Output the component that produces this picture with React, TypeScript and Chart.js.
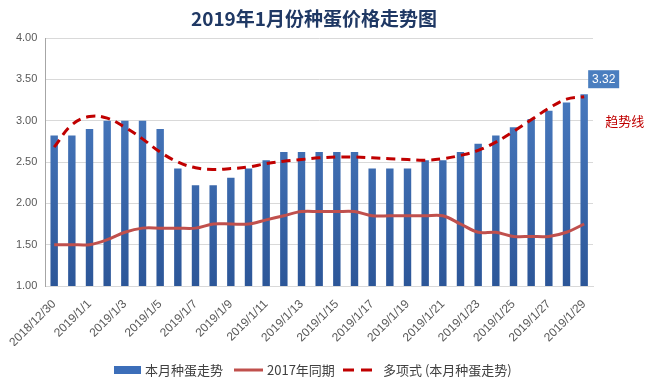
import React, { useEffect, useRef } from 'react';
import { Chart, registerables } from 'chart.js';

Chart.register(...registerables);

const categories = [
  '2018/12/30', '2018/12/31', '2019/1/1', '2019/1/2', '2019/1/3', '2019/1/4', '2019/1/5',
  '2019/1/6', '2019/1/7', '2019/1/8', '2019/1/9', '2019/1/10', '2019/1/11', '2019/1/12',
  '2019/1/13', '2019/1/14', '2019/1/15', '2019/1/16', '2019/1/17', '2019/1/18', '2019/1/19',
  '2019/1/20', '2019/1/21', '2019/1/22', '2019/1/23', '2019/1/24', '2019/1/25', '2019/1/26',
  '2019/1/27', '2019/1/28', '2019/1/29',
];

const priceThisMonth = [
  2.82, 2.82, 2.9, 3.0, 3.0, 3.0, 2.9, 2.42, 2.22, 2.22, 2.31, 2.42, 2.52, 2.62, 2.62, 2.62,
  2.62, 2.62, 2.42, 2.42, 2.42, 2.52, 2.52, 2.62, 2.72, 2.82, 2.92, 3.02, 3.12, 3.22, 3.32,
];

const price2017 = [
  1.5, 1.5, 1.5, 1.56, 1.65, 1.7, 1.7, 1.7, 1.7, 1.75, 1.75, 1.75, 1.8, 1.85, 1.9, 1.9,
  1.9, 1.9, 1.85, 1.85, 1.85, 1.85, 1.85, 1.75, 1.65, 1.65, 1.6, 1.6, 1.6, 1.65, 1.75,
];

const trendPoly = [
  2.68, 2.95, 3.05, 3.03, 2.92, 2.78, 2.62, 2.5, 2.43, 2.41, 2.42, 2.44, 2.48, 2.51, 2.53, 2.55,
  2.56, 2.56, 2.55, 2.54, 2.53, 2.52, 2.54, 2.58, 2.64, 2.74, 2.87, 3.01, 3.15, 3.26, 3.29,
];

const yTicks = { min: 1, max: 4, step: 0.5 };

const seriesNames = ['本月种蛋走势', '2017年同期', '多项式 (本月种蛋走势)'];
const titleText = '2019年1月份种蛋价格走势图';
const trendNote = '趋势线';

const BAR_TOP = 'rgb(80,131,201)';
const BAR_BOTTOM = 'rgb(44,86,152)';
const LINE_2017 = '#C0504D';
const LINE_TREND = '#C00000';
const CJK = '"Noto Sans CJK SC", "Liberation Sans", sans-serif';

const overlayPlugin = {
  id: 'overlay',
  afterDraw(chart: any) {
    const { ctx } = chart;
    const xs = chart.scales.x;
    const ys = chart.scales.y;
    ctx.save();
    // Title
    ctx.font = `bold 19px ${CJK}`;
    ctx.fillStyle = '#1F3864';
    ctx.textAlign = 'center';
    ctx.textBaseline = 'middle';
    ctx.fillText(titleText, 314, 19);

    // Last value label
    const last = priceThisMonth.length - 1;
    const lx = xs.getPixelForValue(last);
    const ly = ys.getPixelForValue(priceThisMonth[last]);
    ctx.fillStyle = '#4A7EBF';
    ctx.fillRect(lx + 4, ly - 24, 31, 18);
    ctx.fillStyle = '#FFFFFF';
    ctx.font = `12px "Liberation Sans", Arial, sans-serif`;
    ctx.textAlign = 'center';
    ctx.fillText(priceThisMonth[last].toFixed(2), lx + 19.5, ly - 15);

    // Trend note
    const ty = ys.getPixelForValue(trendPoly[last]);
    ctx.fillStyle = '#C00000';
    ctx.font = `13px ${CJK}`;
    ctx.textAlign = 'left';
    ctx.fillText(trendNote, lx + 21, ty + 24);

    // Legend
    const ly0 = 370;
    ctx.fillStyle = 'rgb(60,110,185)';
    ctx.fillRect(114, ly0 - 4, 27, 8);
    ctx.fillStyle = '#404040';
    ctx.font = `13px ${CJK}`;
    ctx.textAlign = 'left';
    ctx.fillText(seriesNames[0], 145, ly0);

    ctx.strokeStyle = LINE_2017;
    ctx.lineWidth = 3;
    ctx.beginPath();
    ctx.moveTo(234, ly0);
    ctx.lineTo(263, ly0);
    ctx.stroke();
    ctx.fillText(seriesNames[1], 267, ly0);

    ctx.strokeStyle = LINE_TREND;
    ctx.setLineDash([11, 7]);
    ctx.beginPath();
    ctx.moveTo(343, ly0);
    ctx.lineTo(372, ly0);
    ctx.stroke();
    ctx.setLineDash([]);
    ctx.fillText(seriesNames[2], 383, ly0);
    ctx.restore();
  },
};

export default function App() {
  const ref = useRef<HTMLCanvasElement | null>(null);

  useEffect(() => {
    if (!ref.current) return;
    const chart = new Chart(ref.current, {
      type: 'bar',
      data: {
        labels: categories,
        datasets: [
          {
            type: 'bar',
            label: seriesNames[0],
            data: priceThisMonth,
            order: 3,
            backgroundColor: (c: any) => {
              const area = c.chart.chartArea;
              if (!area) return BAR_TOP;
              const g = c.chart.ctx.createLinearGradient(0, area.top, 0, area.bottom);
              g.addColorStop(0, BAR_TOP);
              g.addColorStop(1, BAR_BOTTOM);
              return g;
            },
            barPercentage: 0.42,
            categoryPercentage: 1,
          },
          {
            type: 'line',
            label: seriesNames[1],
            data: price2017,
            order: 2,
            borderColor: LINE_2017,
            borderWidth: 3,
            pointRadius: 0,
            tension: 0.35,
            fill: false,
          },
          {
            type: 'line',
            label: seriesNames[2],
            data: trendPoly,
            order: 1,
            borderColor: LINE_TREND,
            borderWidth: 3,
            borderDash: [9, 6],
            pointRadius: 0,
            tension: 0.4,
            fill: false,
          },
        ],
      } as any,
      options: {
        animation: false,
        responsive: false,
        layout: { padding: { top: 38, right: 54, bottom: 38, left: 0 } },
        plugins: {
          legend: { display: false },
          title: { display: false },
          tooltip: { enabled: false },
        },
        scales: {
          x: {
            offset: true,
            grid: { display: false, drawTicks: false },
            border: { display: true, color: '#D9D9D9' },
            ticks: {
              autoSkip: false,
              minRotation: 45,
              maxRotation: 45,
              padding: 11,
              color: '#595959',
              font: { size: 12, family: '"Liberation Sans", Arial, sans-serif' },
              callback: (_v: any, i: number) => (i % 2 === 0 ? categories[i] : ''),
            },
            afterFit: (s: any) => { s.height = 60; },
          },
          y: {
            min: yTicks.min,
            max: yTicks.max,
            ticks: {
              stepSize: yTicks.step,
              padding: 8,
              color: '#595959',
              font: { size: 11, family: '"Liberation Sans", Arial, sans-serif' },
              callback: (v: any) => Number(v).toFixed(2),
            },
            grid: { color: '#D9D9D9', drawTicks: false },
            border: { display: true, color: '#A6A6A6' },
            afterFit: (s: any) => { s.width = 44; },
          },
        },
      } as any,
      plugins: [overlayPlugin],
    });
    return () => chart.destroy();
  }, []);

  return (
    <div style={{ position: 'fixed', left: 0, top: 0, width: 647, height: 384, background: '#fff' }}>
      <canvas ref={ref} width={647} height={384} style={{ width: 647, height: 384 }} />
    </div>
  );
}
